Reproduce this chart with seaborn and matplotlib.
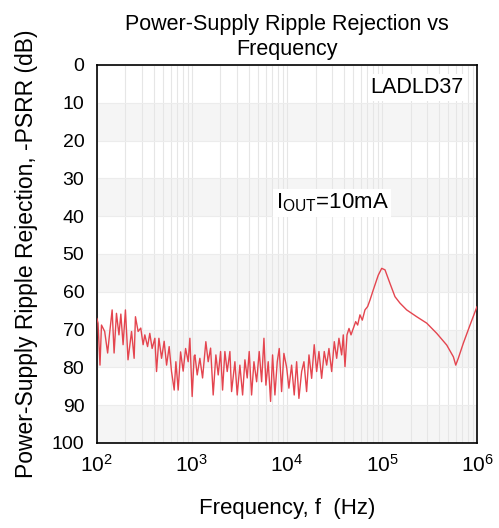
import numpy as np
import pandas as pd
import matplotlib
matplotlib.use("Agg")
import matplotlib.pyplot as plt
import seaborn as sns

# frequency (Hz) and -PSRR (dB)
freq = [100, 103, 108, 112, 121, 130, 137, 145, 152, 161, 171, 179, 189, 200, 213,
        232, 247, 255, 272, 290, 307, 320, 342, 361, 382, 408, 425, 450, 480, 511,
        542, 577, 611, 652, 679, 718, 761, 810, 859, 915, 953, 1007, 1057,
        1077, 1138, 1214, 1296, 1403, 1485, 1574, 1676, 1789, 1893, 2005, 2104,
        2225, 2354, 2512, 2617, 2836, 3000, 3200, 3418, 3615, 3822, 4012, 4248,
        4498, 4800, 5110, 5418, 5730, 6012, 6358, 6730, 7063, 7476, 7910, 8300,
        8790, 9290, 9930, 10490, 11200, 11930, 12650, 13370, 14280, 15100, 16110,
        17060, 18200, 19370, 20540, 21720, 23180, 24700, 26180, 27670, 29560,
        31500, 33370, 35250, 37640, 39150, 40810, 42850, 44990, 47230, 49920,
        52870, 55480, 58650, 62080, 66220, 70670, 74750, 81000, 91400, 99300,
        107600, 121400, 137000, 154600, 181900, 231800, 295600, 376700, 480000,
        563600, 597000, 635000, 717400, 843700, 1000000]
psrr = [67.0, 68.3, 79.4, 68.8, 70.5, 76.2, 70.5, 64.8, 76.2, 65.7, 71.4, 65.9, 74.0,
        64.8, 78.0, 70.5, 77.6, 66.6, 70.5, 69.6, 74.0, 71.4, 74.5, 71.0, 75.0, 72.3,
        81.1, 72.3, 77.6, 73.1, 79.4, 74.5, 81.1, 86.0, 78.5, 86.0, 75.9, 81.0, 75.0,
        78.5, 72.3, 87.7, 77.0,
        76.7, 82.0, 77.6, 82.8, 73.2, 78.5, 74.9, 87.3, 76.7, 82.0, 75.8, 86.0,
        75.8, 81.1, 75.8, 86.4, 78.5, 87.3, 79.4, 87.3, 78.0, 82.8, 75.8, 87.3,
        78.5, 83.8, 75.8, 83.8, 72.3, 84.7, 78.5, 89.0, 76.7, 87.3, 78.5, 75.0,
        86.4, 76.3, 80.0, 85.5, 79.4, 87.3, 78.5, 88.2, 81.1, 78.5, 86.4,
        76.7, 82.9, 74.0, 81.1, 75.8, 82.9, 75.8, 79.4, 75.0, 81.1,
        73.2, 77.6, 72.3, 76.7, 71.4, 79.8, 71.4, 69.7, 71.4, 69.7,
        67.9, 68.8, 66.1, 67.5, 64.8, 63.9, 62.2, 59.5, 55.6, 53.8,
        54.2, 57.8, 61.3, 63.0, 64.8, 66.6, 68.3, 71.0, 74.1,
        77.2, 79.4, 77.6, 73.6, 68.8, 63.9]

df = pd.DataFrame({"freq": freq, "psrr": psrr})

sns.set_style("white")
plt.rcParams["font.family"] = ["Liberation Sans", "DejaVu Sans"]
plt.rcParams["mathtext.fontset"] = "custom"
plt.rcParams["mathtext.rm"] = "Liberation Sans"
plt.rcParams["mathtext.it"] = "Liberation Sans:italic"
for k in ["text.color", "axes.labelcolor", "xtick.color", "ytick.color"]:
    plt.rcParams[k] = "black"

fig = plt.figure(figsize=(4.99, 5.28), dpi=100)
ax = fig.add_axes([0.194, 0.161, 0.762, 0.716])

# alternating light bands
for lo in range(10, 100, 20):
    ax.axhspan(lo, lo + 10, color="#f5f5f5", zorder=0, lw=0)

ax.set_xscale("log")
ax.set_xlim(1e2, 1e6)
ax.set_ylim(100, 0)
ax.grid(True, which="both", axis="x", color="#e6e6e6", lw=0.8, zorder=0.5)
ax.grid(True, which="major", axis="y", color="#ececec", lw=0.8, zorder=0.5)

sns.lineplot(data=df, x="freq", y="psrr", ax=ax, color="#e4454f", lw=1.0, zorder=3)

ax.set_yticks(range(0, 101, 10))
ax.set_xticks([1e2, 1e3, 1e4, 1e5, 1e6])
ax.tick_params(axis="y", length=0, labelsize=14, pad=9)
ax.tick_params(axis="x", length=0, labelsize=15, pad=8)
for s in ax.spines.values():
    s.set_color("black")
    s.set_linewidth(1.2)

ax.set_title("Power-Supply Ripple Rejection vs\nFrequency", fontsize=15.5, pad=7,
             linespacing=1.25)
ax.set_xlabel("Frequency, f  (Hz)", fontsize=16, labelpad=16)
ax.set_ylabel("Power-Supply Ripple Rejection, -PSRR (dB)", fontsize=16.5, labelpad=10)

ax.text(0.965, 0.94, "LADLD37", transform=ax.transAxes, ha="right", va="center",
        fontsize=15.5, bbox=dict(facecolor="white", edgecolor="none", pad=2), zorder=4)
ax.text(0.47, 0.635, r"I$_{\mathrm{OUT}}$=10mA", transform=ax.transAxes, ha="left",
        va="center", fontsize=16, bbox=dict(facecolor="white", edgecolor="none", pad=2),
        zorder=4)

fig.savefig("out.png", dpi=100)
